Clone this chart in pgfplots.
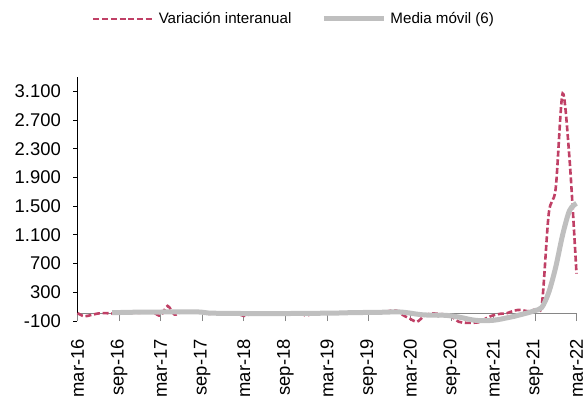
\documentclass[border=0pt]{standalone}
\usepackage{pgfplots}
\pgfplotsset{compat=1.18}
\usepackage{fontspec}
\setmainfont{Liberation Sans}
\definecolor{dashred}{RGB}{192,64,102}
\definecolor{mavg}{RGB}{191,191,191}
\definecolor{axgray}{RGB}{134,134,134}

\begin{document}
\begin{tikzpicture}
\path[use as bounding box] (-77.5bp,-80bp) rectangle (508.5bp,321bp);
\begin{axis}[
 at={(0,0)}, anchor=south west,
 scale only axis, width=499bp, height=244bp,
 xmin=0, xmax=72, ymin=-100, ymax=3300,
 clip=false,
 axis x line*=bottom, axis y line*=left,
 x axis line style={draw=none},
 y axis line style={draw=black, line width=0.8bp, -},
 xtick={0,6,...,72},
 xticklabels={mar-16,sep-16,mar-17,sep-17,mar-18,sep-18,mar-19,sep-19,mar-20,sep-20,mar-21,sep-21,mar-22},
 xtick style={draw=none},
 xticklabel style={rotate=90, anchor=east, inner sep=0pt, font=\fontsize{18.5}{20}\selectfont},
 xticklabel shift=14bp,
 ytick={-100,300,...,3100},
 ytick style={draw=black, line width=0.8bp},
 tick align=outside,
 major tick length=4bp,
 yticklabel style={anchor=east, inner sep=0pt, font=\fontsize{18.5}{20}\selectfont},
 yticklabel shift=12.5bp,
 /pgf/number format/1000 sep={.},
 /pgf/number format/assume math mode=true,
 legend columns=2,
 legend image code/.code={\draw[#1] (0bp,0bp) -- (60bp,0bp);},
 legend style={draw=none, fill=none, at={(0.023,1.2377)}, anchor=west,
   font=\fontsize{15.2}{18}\selectfont, nodes={inner sep=0pt},
   /tikz/every odd column/.append style={column sep=4bp},
   /tikz/every even column/.append style={column sep=30bp}},
]
\draw[axgray, line width=0.8bp] (axis cs:0,0) -- (axis cs:72,0);
\pgfplotsinvokeforeach{0,6,12,18,24,30,36,42,48,54,60,66,72}{
  \draw[axgray, line width=0.8bp] (axis cs:#1,-100) -- (axis cs:#1,0);
}
\addplot[dashred, line width=2.6bp, dash pattern=on 6bp off 2.7bp, smooth, tension=0.5] coordinates {
(0,10) (1,-35) (2,-15) (3,5) (4,10) (5,5) (6,15) (7,20) (8,15) (9,15)
(10,20) (11,15) (12,-25) (13,110) (14,-10) (15,25) (16,25) (17,25) (18,15) (19,0)
(20,5) (21,0) (22,0) (23,5) (24,-30) (25,0) (26,5) (27,0) (28,0) (29,5)
(30,0) (31,5) (32,10) (33,-25) (34,5) (35,10) (36,15) (37,20) (38,10) (39,15)
(40,20) (41,20) (42,20) (43,25) (44,20) (45,40) (46,45) (47,-20) (48,-70) (49,-110)
(50,-30) (51,5) (52,0) (53,-10) (54,-40) (55,-110) (56,-125) (57,-125) (58,-115) (59,-60)
(60,-20) (61,0) (62,10) (63,45) (64,55) (65,35) (66,60) (67,130) (68,1400) (69,1750)
(70,3070) (71,2150) (72,560)
};
\addlegendentry{Variación interanual}
\addplot[mavg, line width=5bp, smooth, tension=0.5] coordinates {
(5,15) (6,18) (7,20) (8,22) (9,22) (10,24) (11,25) (12,25) (13,28) (14,28)
(15,28) (16,28) (17,28) (18,22) (19,10) (20,8) (21,6) (22,5) (23,5) (24,4)
(25,3) (26,3) (27,3) (28,3) (29,3) (30,3) (31,5) (32,5) (33,5) (34,5)
(35,8) (36,8) (37,10) (38,12) (39,15) (40,15) (41,18) (42,20) (43,20) (44,22)
(45,25) (46,28) (47,22) (48,10) (49,-5) (50,-15) (51,-18) (52,-20) (53,-20) (54,-30)
(55,-45) (56,-65) (57,-85) (58,-95) (59,-95) (60,-90) (61,-75) (62,-55) (63,-35) (64,-10)
(65,15) (66,45) (67,90) (68,300) (69,650) (70,1100) (71,1440) (72,1540)
};
\addlegendentry{Media móvil (6)}
\end{axis}
\end{tikzpicture}
\end{document}
